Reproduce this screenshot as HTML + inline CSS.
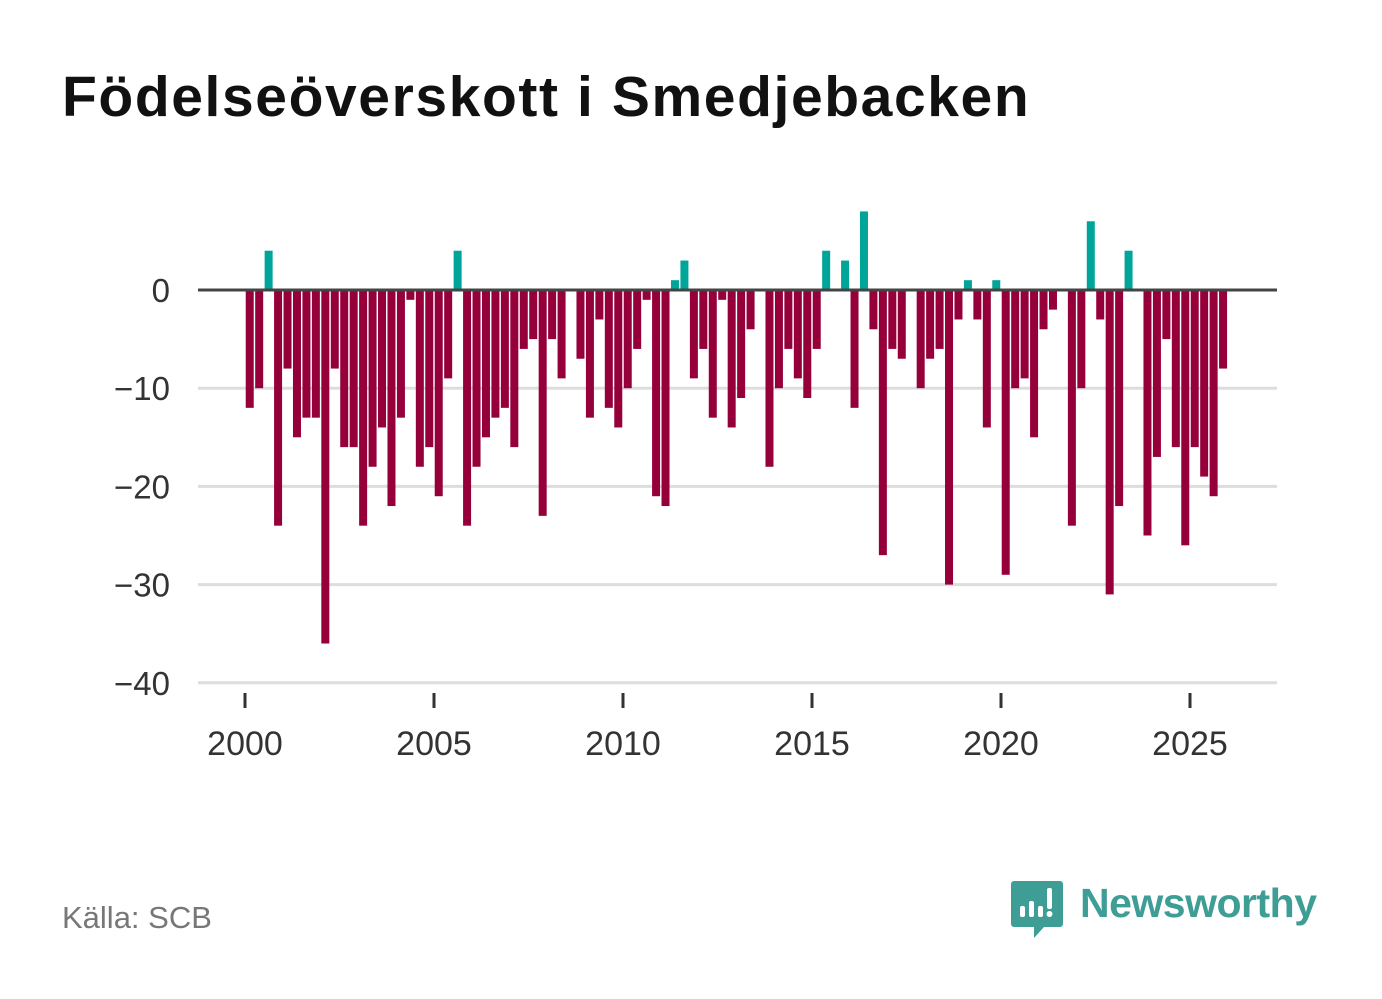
<!DOCTYPE html>
<html><head><meta charset="utf-8">
<style>
html,body{margin:0;padding:0;background:#fff;}
body{width:1382px;height:999px;position:relative;overflow:hidden;font-family:"Liberation Sans",sans-serif;}
#title{position:absolute;left:62px;top:64px;font-size:57px;font-weight:bold;color:#111;margin:0;letter-spacing:1.6px;}
#source{position:absolute;left:62px;top:900px;font-size:31px;color:#777;}
#logo-text{position:absolute;left:1080px;top:880px;font-size:41px;font-weight:bold;color:#3e9e96;letter-spacing:-0.5px;}
svg{position:absolute;left:0;top:0;}
</style></head>
<body>
<h1 id="title">Födelseöverskott i Smedjebacken</h1>
<svg id="chart" width="1382" height="999"></svg>
<div id="source">Källa: SCB</div>
<svg width="1382" height="999" style="pointer-events:none">
  <path d="M1014 881 h46 a3 3 0 0 1 3 3 v40 a3 3 0 0 1 -3 3 h-16 l-10 11 v-11 h-20 a3 3 0 0 1 -3 -3 v-40 a3 3 0 0 1 3 -3z" fill="#3e9e96"/>
  <rect x="1020" y="906" width="5" height="11" rx="2" fill="#fff"/>
  <rect x="1029" y="901" width="5" height="16" rx="2" fill="#fff"/>
  <rect x="1038" y="906" width="5" height="11" rx="2" fill="#fff"/>
  <rect x="1047" y="888" width="5" height="21" rx="2" fill="#fff"/>
  <circle cx="1049.5" cy="914" r="3" fill="#fff"/>
</svg>
<div id="logo-text">Newsworthy</div>
<script>
const years = [2000,2001,2002,2003,2004,2005,2006,2007,2008,2009,2010,2011,2012,2013,2014,2015,2016,2017,2018,2019,2020,2021,2022,2023,2024,2025];
const values = [
-12,-10,4,-24, -8,-15,-13,-13, -36,-8,-16,-16, -24,-18,-14,-22, -13,-1,-18,-16,
-21,-9,4,-24, -18,-15,-13,-12, -16,-6,-5,-23, -5,-9,0,-7, -13,-3,-12,-14,
-10,-6,-1,-21, -22,1,3,-9, -6,-13,-1,-14, -11,-4,0,-18, -10,-6,-9,-11,
-6,4,0,3, -12,8,-4,-27, -6,-7,0,-10, -7,-6,-30,-3, 1,-3,-14,1,
-29,-10,-9,-15, -4,-2,0,-24, -10,7,-3,-31, -22,4,0,-25, -17,-5,-16,-26,
-16,-19,-21,-8];
const yTicks = [0,-10,-20,-30,-40];
const xTicks = [2000,2005,2010,2015,2020,2025];
const yTickLabels = ["0","\u221210","\u221220","\u221230","\u221240"];

const NS="http://www.w3.org/2000/svg";
const svg=document.getElementById('chart');
const x0=198,x1=1277;
const xScale=t=>245+(t-2000)*37.8;
const yScale=v=>290-v*9.82;
function mk(tag,attrs){const e=document.createElementNS(NS,tag);for(const k in attrs)e.setAttribute(k,attrs[k]);svg.appendChild(e);return e;}
yTicks.forEach((t,i)=>{
  if(t!==0){const g=mk('line',{x1:x0,x2:x1,y1:yScale(t),y2:yScale(t),stroke:'#dddddd','stroke-width':3});
  
  }
  const l=mk('text',{x:170,y:yScale(t)+12,'text-anchor':'end','font-size':33,fill:'#333','font-family':'Liberation Sans, sans-serif'});
  l.textContent=yTickLabels[i];
  
  
});
values.forEach((v,i)=>{
  const t=years[0]+i*0.25+0.125;
  const cx=xScale(t);
  const y=v>=0?yScale(v):yScale(0);
  const h=Math.abs(yScale(v)-yScale(0));
  const r=mk('rect',{x:cx-4,y:y,width:8,height:h,fill:v>=0?'#00a59a':'#96003a'});
  
  
});
const z=mk('line',{x1:x0,x2:x1,y1:yScale(0),y2:yScale(0),stroke:'#444','stroke-width':3});


xTicks.forEach(t=>{
  const tk=mk('line',{x1:xScale(t),x2:xScale(t),y1:693,y2:708,stroke:'#333','stroke-width':3});
  
  
  const l=mk('text',{x:xScale(t),y:755,'text-anchor':'middle','font-size':34,fill:'#333','font-family':'Liberation Sans, sans-serif'});
  l.textContent=String(t);
  
  
});
</script>
</body></html>
